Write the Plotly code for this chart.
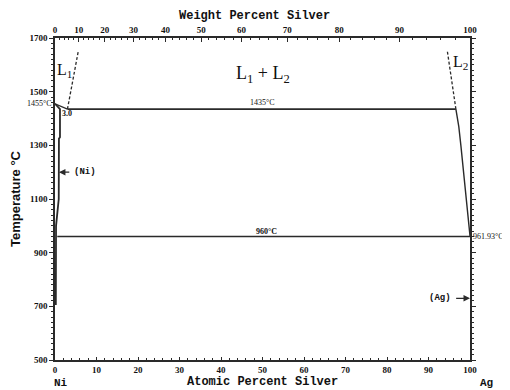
import plotly.graph_objects as go

# ---- data (atomic % Ag, temperature °C) ----
liq1_x = [0, 3.0]
liq1_t = [1455, 1435]
solNi_x = [0, 1.2, 1.2, 0.95, 0.9, 0.55, 0.25, 0.2]
solNi_t = [1455, 1435, 1330, 1325, 1100, 1040, 1000, 705]
liq1_dash_x = [3.0, 5.6]
liq1_dash_t = [1435, 1650]
mono_x = [3.0, 96.6]
mono_t = [1435, 1435]
liq2_dash_x = [96.6, 94.5]
liq2_dash_t = [1435, 1655]
liq2_x = [96.6, 97.3, 97.8, 98.4, 99.0, 99.5, 100]
liq2_t = [1435, 1370, 1300, 1210, 1114, 1030, 961.93]
eut_x = [0.55, 100]
eut_t = [960, 960]

y_ticks = [500, 700, 900, 1100, 1300, 1500, 1700]
x_ticks = list(range(0, 101, 10))
wt_ticks = list(range(0, 101, 10))
wt_minor = list(range(0, 101, 2))

M_NI, M_AG = 58.69, 107.87


def wt_to_at(w):
    if w >= 100:
        return 100.0
    a = w / M_AG
    b = (100 - w) / M_NI
    return 100 * a / (a + b)


LC = "#2a2a2a"
TC = "#111111"
fig = go.Figure()


def line(x, t, dash="solid", w=1.6):
    fig.add_trace(go.Scatter(x=x, y=t, mode="lines", line=dict(color=LC, width=w, dash=dash),
                             showlegend=False, hoverinfo="skip"))


line(liq1_x, liq1_t, w=1.2)
line(solNi_x, solNi_t, w=1.8)
line(liq1_dash_x, liq1_dash_t, dash="3px,2px", w=1.3)
line(mono_x, mono_t)
line(liq2_dash_x, liq2_dash_t, dash="3px,2px", w=1.3)
line(liq2_x, liq2_t, w=1.4)
line(eut_x, eut_t)
# dummy trace for top axis
fig.add_trace(go.Scatter(x=[0, 100], y=[500, 500], xaxis="x2", mode="lines",
                         line=dict(width=0), showlegend=False, hoverinfo="skip"))

tickfont = dict(family="Liberation Serif", size=9, color=TC)

# the page body has an 8px margin, so the figure sits at (8, 8) in the window
fig.update_layout(
    width=510, height=390,
    margin=dict(l=47, r=48, t=30, b=38),
    paper_bgcolor="white", plot_bgcolor="white",
    xaxis=dict(range=[0, 100], tickvals=x_ticks, ticktext=[f"<b>{v}</b>" for v in x_ticks],
               showline=True, linecolor=LC, linewidth=1.5, ticks="inside", ticklen=3,
               tickcolor=LC, showgrid=False, zeroline=False, tickfont=tickfont, automargin=False,
               minor=dict(ticks="inside", dtick=2, ticklen=2, tickcolor=LC)),
    xaxis2=dict(range=[0, 100], overlaying="x", side="top", anchor="y",
                tickvals=[wt_to_at(w) for w in wt_ticks], ticktext=[f"<b>{w}</b>" for w in wt_ticks],
                showline=True, linecolor=LC, linewidth=1.5, ticks="inside", ticklen=4,
                tickcolor=LC, showgrid=False, zeroline=False, tickfont=tickfont, automargin=False,
                minor=dict(ticks="inside", tickmode="array", tickvals=[wt_to_at(w) for w in wt_minor],
                           ticklen=2, tickcolor=LC)),
    yaxis=dict(range=[500, 1700], tickvals=y_ticks, ticktext=[f"<b>{v}</b>" for v in y_ticks],
               showline=True, linecolor=LC, linewidth=1.5, ticks="outside", ticklen=4,
               tickcolor=LC, showgrid=False, zeroline=False, mirror="ticks", tickfont=tickfont,
               automargin=False,
               minor=dict(ticks="outside", dtick=20, ticklen=2, tickcolor=LC),
               title=dict(text="<b>Temperature °C</b>", standoff=10,
                          font=dict(family="Liberation Sans", size=13, color=TC))),
)

ann = []


def txt(x, y, s, size=9, xanchor="center", yanchor="middle", family="Liberation Serif", ref="data", **kw):
    d = dict(x=x, y=y, text=s, showarrow=False, xanchor=xanchor, yanchor=yanchor,
             font=dict(family=family, size=size, color=TC))
    if ref == "paper":
        d.update(xref="paper", yref="paper")
    d.update(kw)
    ann.append(d)


txt(0.48, 1.0, "<b>Weight Percent Silver</b>", size=12, family="Liberation Mono", ref="paper",
    yanchor="bottom", yshift=13)
txt(0.50, 0, "<b>Atomic Percent Silver</b>", size=12, family="Liberation Mono", ref="paper",
    yanchor="top", yshift=-13)
txt(0.014, 0, "<b>Ni</b>", size=11, family="Liberation Mono", ref="paper", yanchor="top", yshift=-15)
txt(1.04, 0, "<b>Ag</b>", size=11, family="Liberation Mono", ref="paper", yanchor="top", yshift=-15)

txt(0, 1455, "1455°C", size=8, xanchor="right", xshift=-1)
txt(2.9, 1420, "<b>3.0</b>", size=8)
txt(50, 1435, "1435°C", size=8, yanchor="bottom")
txt(51, 960, "<b>960°C</b>", size=8, yanchor="bottom", yshift=-1)
txt(100, 961.93, "961.93°C", size=8, xanchor="left", xshift=1)
txt(2.4, 1580, "L<sub>1</sub>", size=16)
txt(97.6, 1610, "L<sub>2</sub>", size=16)
txt(50, 1565, "L<sub>1</sub> + L<sub>2</sub>", size=18)

ann.append(dict(x=0.95, y=1200, ax=3.8, ay=1200, axref="x", ayref="y", xref="x", yref="y",
                text="", showarrow=True, arrowhead=2, arrowsize=1, arrowwidth=1.3, arrowcolor=LC))
txt(4.0, 1200, "<b>(Ni)</b>", size=9, family="Liberation Mono", xanchor="left")
ann.append(dict(x=100, y=730, ax=96.3, ay=730, axref="x", ayref="y", xref="x", yref="y",
                text="", showarrow=True, arrowhead=2, arrowsize=1, arrowwidth=1.3, arrowcolor=LC))
txt(96.0, 730, "<b>(Ag)</b>", size=9, family="Liberation Mono", xanchor="right")

fig.update_layout(annotations=ann)
fig.write_html("out.html")
